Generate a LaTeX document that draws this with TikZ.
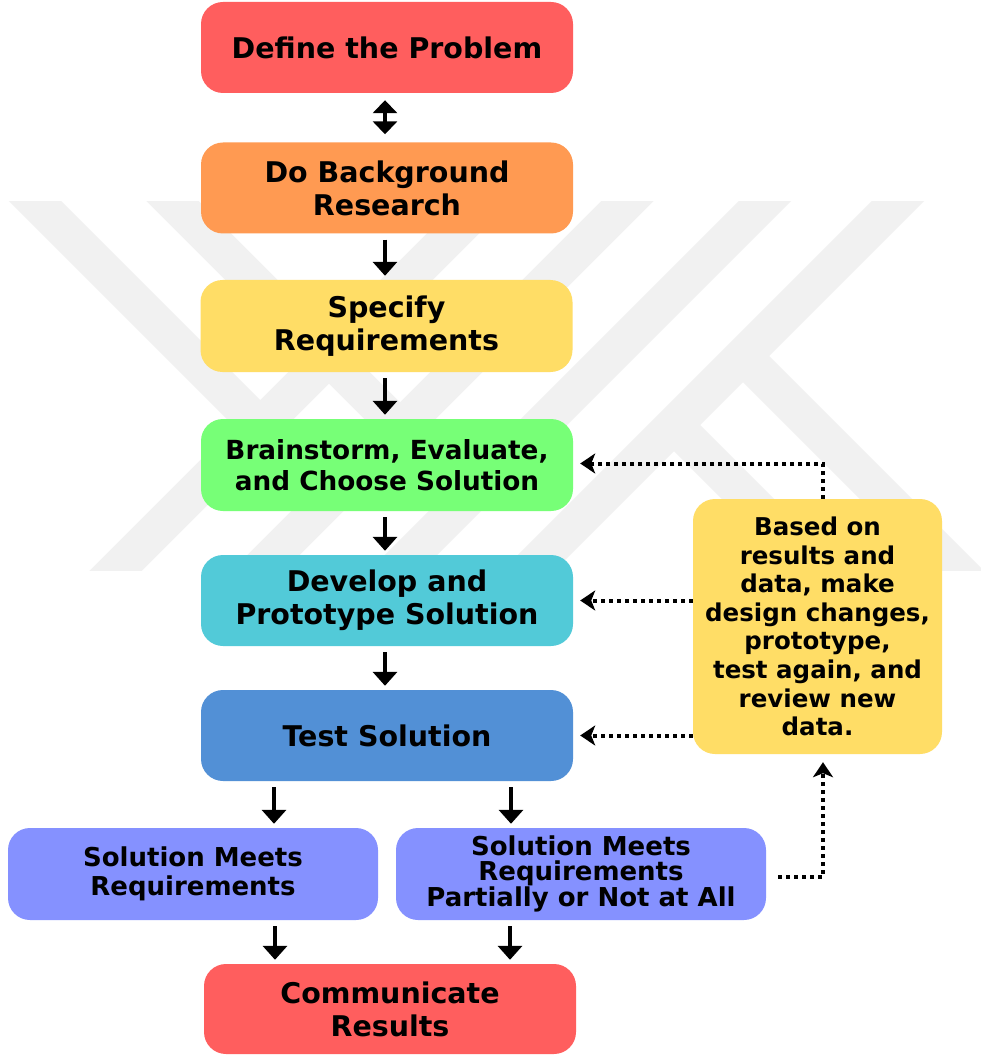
\documentclass[tikz,border=0pt]{standalone}
\usepackage{fontspec}
\setmainfont{DejaVu Sans}
\usetikzlibrary{arrows.meta}
\definecolor{cRed}{RGB}{255,94,94}
\definecolor{cOrange}{RGB}{255,154,82}
\definecolor{cYellow}{RGB}{255,221,102}
\definecolor{cGreen}{RGB}{119,255,119}
\definecolor{cCyan}{RGB}{82,202,216}
\definecolor{cBlue}{RGB}{82,144,214}
\definecolor{cPeri}{RGB}{133,145,255}
\definecolor{cWm}{RGB}{241,241,241}
\tikzset{
  box/.style={rounded corners=22pt, inner sep=0pt, align=center, text=black,
    minimum width=372pt, minimum height=91pt,
    font=\bfseries\fontsize{28.5}{33}\selectfont},
  arr/.style={line width=4.5pt, -{Triangle[length=14pt,width=24pt]},
    shorten <=6pt, shorten >=4pt},
  dblarr/.style={line width=4.5pt, {Triangle[length=13pt,width=24pt]}-{Triangle[length=13pt,width=24pt]},
    shorten <=7pt, shorten >=8pt},
  dotarr/.style={line width=4pt, dash pattern=on 4pt off 4pt,
    -{Stealth[length=15pt,width=20pt,inset=4pt]}},
  wm/.style={line width=37pt, draw=cWm},
}
\begin{document}
\begin{tikzpicture}[x=1pt,y=-1pt]
\useasboundingbox (0,0) rectangle (981,1056);
\fill[white] (0,0) rectangle (981,1056);
% watermark
\begin{scope}
  \clip (0,202) rectangle (981,570);
  \draw[wm] (-100,66) -- (260,426);
  \draw[wm] (100,128.5) -- (400,428.5);
  \draw[wm] (-50,736.5) -- (536.5,150);
  \draw[wm] (200,628.5) -- (678.5,150);
  \draw[wm] (300,666) -- (816,150);
  \draw[wm] (450,649) -- (949,150);
  \draw[wm] (743,356) -- (1100,713);
  \draw[wm] (674,425) -- (1000,751);
\end{scope}
% boxes
\node[box, fill=cRed] (p1) at (387,47.5) {Define the Problem};
\node[box, fill=cOrange] (p2) at (387,188) {Do Background\\Research};
\node[box, fill=cYellow, minimum height=92pt] (p3) at (386.5,326) {Specify\\Requirements};
\node[box, fill=cGreen, minimum height=92pt, font=\bfseries\fontsize{26.3}{31}\selectfont] (p4) at (387,465) {Brainstorm, Evaluate,\\and Choose Solution};
\node[box, fill=cCyan] (p5) at (387,600.5) {Develop and\\Prototype Solution};
\node[box, fill=cBlue] (p6) at (387,735.5) {Test Solution};
\node[box, fill=cPeri, minimum width=370pt, minimum height=92pt, font=\bfseries\fontsize{26}{29}\selectfont] (p7) at (193,874) {Solution Meets\\Requirements};
\node[box, fill=cPeri, minimum width=370pt, minimum height=92pt, font=\bfseries\fontsize{26}{24.5}\selectfont] (p8) at (581,874) {Solution Meets\\Requirements\\Partially or Not at All};
\node[box, fill=cRed, minimum height=90pt] (p9) at (390,1009) {Communicate\\Results};
\node[box, fill=cYellow, minimum width=249pt, minimum height=255pt, font=\bfseries\fontsize{24.5}{28.6}\selectfont] (side) at (817.5,626.5) {Based on\\results and\\data, make\\design changes,\\prototype,\\test again, and\\review new\\data.};
% solid arrows
\draw[dblarr] ([xshift=-2pt]p1.south) -- ([xshift=-2pt]p2.north);
\draw[arr] ([xshift=-2pt]p2.south) -- ([xshift=-2pt]p2.south |- p3.north);
\draw[arr] ([xshift=-1.5pt]p3.south) -- ([xshift=-1.5pt]p3.south |- p4.north);
\draw[arr] ([xshift=-2pt]p4.south) -- ([xshift=-2pt]p5.north);
\draw[arr] ([xshift=-2pt]p5.south) -- ([xshift=-2pt]p6.north);
\draw[arr] ([xshift=-113pt]p6.south) -- ([xshift=-113pt]p6.south |- p7.north);
\draw[arr] ([xshift=124pt]p6.south) -- ([xshift=124pt]p6.south |- p8.north);
\draw[arr] ([xshift=82pt]p7.south) -- ([xshift=82pt]p7.south |- p9.north);
\draw[arr] ([xshift=-71pt]p8.south) -- ([xshift=-71pt]p8.south |- p9.north);
% dotted feedback arrows
\draw[dotarr, shorten >=7pt] ([xshift=5.5pt]side.north) |- ([yshift=1.5pt]p4.east);
\draw[dotarr, shorten >=7pt] (side.west |- p5.east) -- (p5.east);
\draw[dotarr, shorten >=7pt] (side.west |- p6.east) -- (p6.east);
\draw[dotarr, shorten >=8pt] ([xshift=12pt,yshift=-3pt]p8.east) -| ([xshift=5.5pt]side.south);
\end{tikzpicture}
\end{document}
